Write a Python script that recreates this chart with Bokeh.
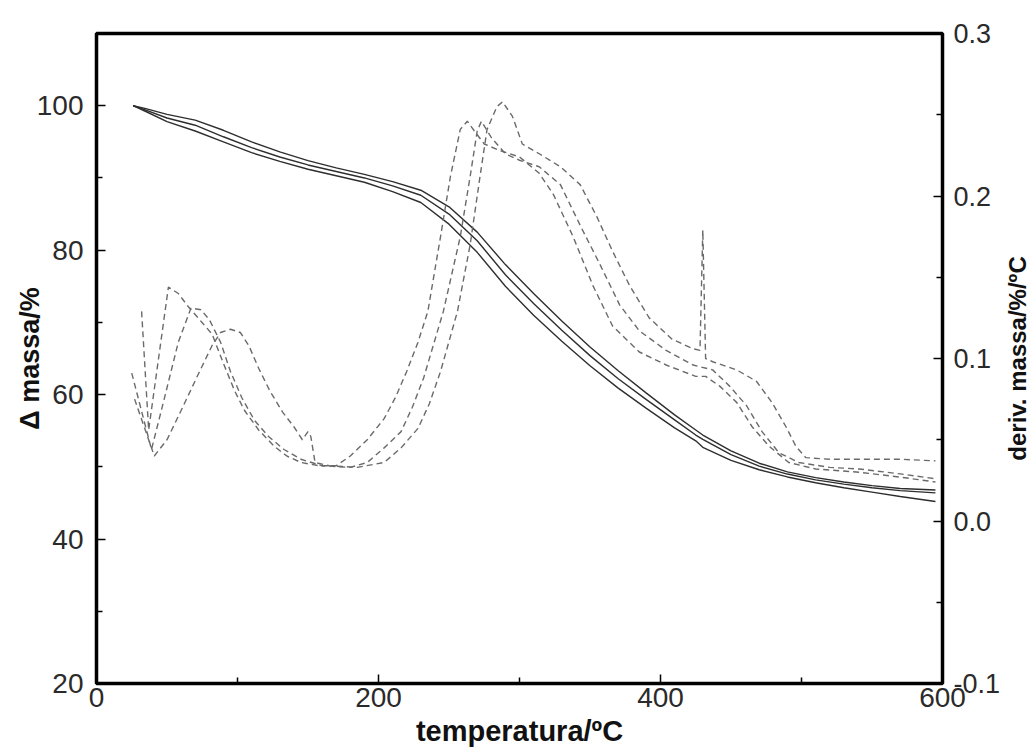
import math

from bokeh.plotting import figure
from bokeh.layouts import row
from bokeh.models import Range1d, LinearAxis, FixedTicker, NumeralTickFormatter
from bokeh.core.properties import value
from bokeh.embed import file_html
from bokeh.resources import INLINE

# --- TG curves: mass remaining (%) vs temperature (ºC) ---
t_mass = [26, 35, 50, 70, 90, 110, 130, 150, 170, 190, 210, 230, 250, 270,
          290, 310, 330, 350, 370, 390, 410, 425, 430, 450, 470, 490, 510,
          530, 550, 570, 595]
mass_a = [100, 99.6, 98.8, 98.0, 96.6, 95.0, 93.6, 92.4, 91.4, 90.5, 89.5,
          88.3, 86.0, 82.5, 78.0, 74.0, 70.2, 66.6, 63.3, 60.2, 57.2, 55.1,
          54.4, 52.2, 50.5, 49.3, 48.5, 47.9, 47.4, 47.0, 46.8]
mass_b = [100, 99.4, 98.3, 97.3, 95.7, 94.2, 92.9, 91.8, 90.9, 90.0, 88.9,
          87.6, 85.0, 81.3, 76.6, 72.6, 68.9, 65.4, 62.2, 59.3, 56.5, 54.4,
          53.8, 51.7, 50.1, 49.0, 48.2, 47.6, 47.1, 46.7, 46.4]
mass_c = [100, 99.2, 97.8, 96.5, 95.0, 93.5, 92.3, 91.2, 90.3, 89.4, 88.1,
          86.6, 83.6, 79.7, 75.0, 71.0, 67.4, 64.0, 60.9, 58.1, 55.4, 53.6,
          52.7, 50.9, 49.6, 48.6, 47.8, 47.1, 46.5, 45.9, 45.2]

# --- DTG curves: derivative of mass (%/ºC) vs temperature (ºC) ---
t_d1 = [32, 37, 44, 51, 58, 65, 75, 82, 90, 98, 105, 115, 126, 135, 145, 158,
        170, 180, 192, 204, 212, 220, 228, 235, 244, 251, 258, 263, 268, 275,
        286, 300, 314, 324, 338, 352, 366, 385, 404, 425, 432, 442, 454, 465,
        477, 491, 510, 541, 570, 595]
dtg_1 = [0.129, 0.056, 0.100, 0.144, 0.140, 0.132, 0.122, 0.115, 0.097, 0.080,
         0.068, 0.056, 0.046, 0.040, 0.036, 0.034, 0.034, 0.040, 0.050, 0.063,
         0.076, 0.092, 0.110, 0.129, 0.175, 0.212, 0.241, 0.246, 0.240, 0.232,
         0.228, 0.224, 0.214, 0.201, 0.175, 0.145, 0.120, 0.104, 0.096, 0.089,
         0.089, 0.083, 0.073, 0.058, 0.046, 0.036, 0.032, 0.030, 0.027, 0.024]

t_d2 = [25, 39, 48, 58, 67, 74, 80, 88, 95, 103, 112, 122, 133, 145, 160, 180,
        192, 204, 216, 224, 232, 246, 258, 265, 270, 273, 280, 290, 300, 314,
        329, 343, 357, 371, 385, 404, 423, 437, 449, 461, 472, 484, 498, 520,
        541, 570, 595]
dtg_2 = [0.091, 0.044, 0.075, 0.110, 0.131, 0.130, 0.124, 0.110, 0.092, 0.076,
         0.062, 0.052, 0.044, 0.038, 0.034, 0.033, 0.036, 0.045, 0.055, 0.070,
         0.088, 0.129, 0.175, 0.212, 0.240, 0.246, 0.236, 0.226, 0.222, 0.218,
         0.207, 0.182, 0.158, 0.133, 0.117, 0.105, 0.096, 0.093, 0.083, 0.071,
         0.055, 0.042, 0.036, 0.033, 0.032, 0.029, 0.026]

t_d3 = [27, 41, 50, 60, 72, 82, 88, 95, 102, 108, 115, 123, 132, 140, 146, 150,
        152, 155, 165, 185, 204, 216, 228, 236, 244, 256, 265, 272, 277, 284,
        288, 295, 302, 314, 329, 343, 355, 366, 378, 392, 408, 423, 428, 430,
        432, 437, 454, 468, 479, 489, 496, 503, 520, 541, 570, 595]
dtg_3 = [0.075, 0.040, 0.050, 0.068, 0.090, 0.108, 0.116, 0.118, 0.116, 0.108,
         0.094, 0.080, 0.067, 0.058, 0.050, 0.055, 0.052, 0.036, 0.034, 0.033,
         0.036, 0.045, 0.057, 0.072, 0.092, 0.129, 0.170, 0.212, 0.241, 0.255,
         0.258, 0.249, 0.232, 0.226, 0.218, 0.207, 0.187, 0.166, 0.145, 0.125,
         0.112, 0.106, 0.105, 0.179, 0.100, 0.098, 0.093, 0.086, 0.073, 0.058,
         0.046, 0.039, 0.038, 0.038, 0.038, 0.037]

x_ticks = [0, 200, 400, 600]
x_minor = [100, 300, 500]
mass_ticks = [20, 40, 60, 80, 100]
mass_minor = [30, 50, 70, 90]
dtg_ticks = [-0.1, 0.0, 0.1, 0.2, 0.3]
dtg_minor = [-0.05, 0.05, 0.15, 0.25]
dtg_title = "deriv. massa/%/ºC"

FONT = "Liberation Sans"
TOP, BOTTOM = 33, 70

p = figure(width=1003, height=753, x_range=Range1d(0, 600),
           y_range=Range1d(20, 110), output_backend="svg",
           toolbar_location=None, min_border_left=96, min_border_right=59,
           min_border_top=TOP, min_border_bottom=BOTTOM)
p.extra_y_ranges = {"dtg": Range1d(-0.1, 0.3)}

p.xgrid.visible = False
p.ygrid.visible = False
p.outline_line_color = "black"
p.outline_line_width = 3.5
p.background_fill_color = "white"
p.border_fill_color = "white"

solid_color = "#2e2e2e"
dash_color = "#6a6a6a"
for m in (mass_a, mass_b, mass_c):
    p.line(t_mass, m, line_color=solid_color, line_width=1.4)

for t, d in ((t_d1, dtg_1), (t_d2, dtg_2), (t_d3, dtg_3)):
    p.line(t, d, y_range_name="dtg", line_color=dash_color, line_width=1.4,
           line_dash="6 4")

right = LinearAxis(y_range_name="dtg")
p.add_layout(right, "right")


def style(ax, ticks, minor, standoff, size="28px"):
    ax.ticker = FixedTicker(ticks=ticks, minor_ticks=minor)
    ax.axis_line_color = None
    ax.major_tick_in = 9
    ax.major_tick_out = 0
    ax.minor_tick_in = 6
    ax.minor_tick_out = 0
    ax.major_tick_line_width = 1.5
    ax.minor_tick_line_width = 1.5
    ax.major_tick_line_color = "black"
    ax.minor_tick_line_color = "black"
    ax.major_label_text_font = FONT
    ax.major_label_text_font_size = size
    ax.major_label_text_color = "#2a2a2a"
    ax.major_label_standoff = standoff


def title(ax, text, standoff, size):
    ax.axis_label = text
    ax.axis_label_standoff = standoff
    ax.axis_label_text_font = FONT
    ax.axis_label_text_font_style = "bold"
    ax.axis_label_text_font_size = size
    ax.axis_label_text_color = "#111111"


style(p.xaxis[0], x_ticks, x_minor, 4)
style(p.yaxis[0], mass_ticks, mass_minor, 13)
style(right, dtg_ticks, dtg_minor, 11, "27px")
right.formatter = NumeralTickFormatter(format="0.0")

title(p.xaxis[0], "temperatura/ºC", 5, "29px")
# left title tucks in beside the narrower middle tick labels
title(p.yaxis[0], "Δ massa/%", -11, "27px")

# narrow strip to the right carrying the DTG axis title, reading bottom to top
q = figure(width=27, height=753, x_range=Range1d(0, 1),
           y_range=Range1d(-0.1, 0.3), output_backend="svg",
           toolbar_location=None, x_axis_location=None, y_axis_location=None,
           min_border_left=0, min_border_right=0,
           min_border_top=TOP, min_border_bottom=BOTTOM)
q.outline_line_color = None
q.xgrid.visible = False
q.ygrid.visible = False
q.background_fill_color = "white"
q.border_fill_color = "white"
q.text(x=[0.5], y=[sum(dtg_ticks) / len(dtg_ticks)], text=[dtg_title],
       angle=math.pi / 2, text_align="center", text_baseline="middle",
       text_font=value(FONT), text_font_style="bold", text_font_size="24px",
       text_color="#111111")

layout = row(p, q, spacing=0)
open("out.html", "w").write(file_html(layout, INLINE))
